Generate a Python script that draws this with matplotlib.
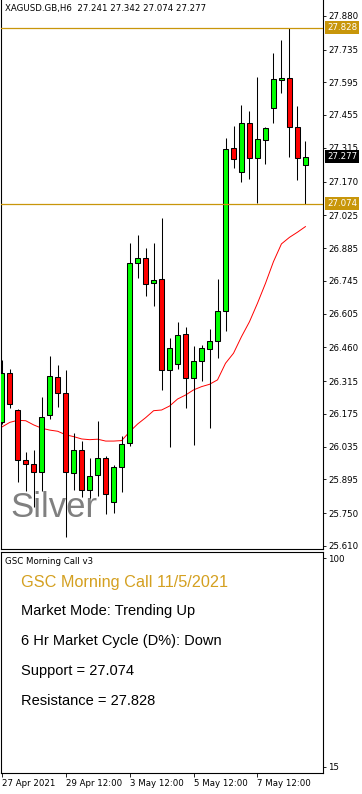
import numpy as np
import matplotlib
matplotlib.use("Agg")
from matplotlib import pyplot as plt
from matplotlib import transforms

# H6 candles, XAGUSD
opens = [26.139, 26.350, 26.191, 25.977, 25.960, 25.925, 26.169, 26.333, 26.265, 25.921,
         26.020, 25.851, 25.912, 25.986, 25.797, 25.947, 26.049, 26.820, 26.842, 26.734,
         26.752, 26.363, 26.388, 26.516, 26.328, 26.400, 26.452, 26.486, 26.615, 27.312,
         27.212, 27.419, 27.270, 27.347, 27.484, 27.603, 27.612, 27.402, 27.241]
highs = [26.406, 26.368, 26.198, 26.011, 26.022, 26.249, 26.424, 26.385, 26.363, 26.092,
         26.060, 25.988, 26.145, 25.996, 25.958, 26.081, 26.907, 26.940, 26.885, 26.906,
         27.014, 26.499, 26.567, 26.546, 26.466, 26.470, 26.538, 26.752, 27.356, 27.408,
         27.498, 27.472, 27.616, 27.404, 27.720, 27.776, 27.828, 27.493, 27.342]
lows = [26.132, 26.202, 25.885, 25.847, 25.778, 25.847, 26.155, 26.206, 25.650, 25.850,
        25.821, 25.814, 25.826, 25.745, 25.749, 25.839, 26.040, 26.755, 26.681, 26.639,
        26.279, 26.032, 26.366, 26.201, 26.042, 26.318, 26.116, 26.413, 26.532, 27.229,
        27.169, 27.182, 27.080, 27.246, 27.422, 27.550, 27.276, 27.178, 27.074]
closes = [26.349, 26.216, 25.977, 25.960, 25.925, 26.161, 26.338, 26.264, 25.925, 26.020,
          25.850, 25.908, 25.986, 25.831, 25.948, 26.045, 26.820, 26.842, 26.730, 26.747,
          26.362, 26.456, 26.512, 26.329, 26.401, 26.456, 26.486, 26.615, 27.308, 27.265,
          27.419, 27.270, 27.351, 27.398, 27.608, 27.612, 27.402, 27.270, 27.277]
ma_line = [26.119, 26.139, 26.148, 26.146, 26.128, 26.114, 26.106, 26.101, 26.086, 26.078,
           26.068, 26.065, 26.067, 26.059, 26.059, 26.061, 26.099, 26.132, 26.159, 26.189,
           26.192, 26.209, 26.239, 26.256, 26.278, 26.292, 26.302, 26.321, 26.392, 26.435,
           26.506, 26.570, 26.649, 26.734, 26.827, 26.903, 26.931, 26.953, 26.977]

support = 27.074
resistance = 27.828
last_price = 27.277

price_ticks = [27.880, 27.735, 27.595, 27.455, 27.315, 27.170, 27.025, 26.885, 26.745,
               26.605, 26.460, 26.315, 26.175, 26.035, 25.895, 25.750, 25.610]
time_tick_pos = [0, 8, 16, 24, 32]
time_tick_labels = ["27 Apr 2021", "29 Apr 12:00", "3 May 12:00", "5 May 12:00", "7 May 12:00"]

panel_lines = ["Market Mode: Trending Up",
               "6 Hr Market Cycle (D%): Down",
               "Support = 27.074",
               "Resistance = 27.828"]

GOLD = "#c8960a"
W, H = 362, 794

plt.rcParams['font.family'] = ['DejaVu Sans']
plt.rcParams['font.size'] = 6.2

fig = plt.figure(figsize=(W / 100, H / 100), dpi=100)
fig.patch.set_facecolor("white")


def fx(px):
    return px / W


def fy(py):
    return 1 - py / H


ax = fig.add_axes([fx(0.5), fy(549), fx(323 - 0.5), fy(0) - fy(549)])
ax2 = fig.add_axes([fx(0.5), fy(773), fx(323 - 0.5), fy(552) - fy(773)])

x = np.arange(len(opens))
o = np.array(opens)
c = np.array(closes)
up = c >= o
colors = np.where(up, "#00ff00", "#ff0000")

# wicks then bodies
ax.vlines(x, lows, highs, color="black", linewidth=0.75, zorder=3)
ax.bar(x, np.maximum(np.abs(c - o), 0.002), bottom=np.minimum(o, c), width=0.62,
       color=colors, edgecolor="black", linewidth=0.75, zorder=4)
ax.plot(x, ma_line, color="#ff0000", linewidth=0.7, zorder=2)

ax.axhline(resistance, color=GOLD, linewidth=0.9, zorder=5)
ax.axhline(support, color=GOLD, linewidth=0.9, zorder=5)

ax.text(0.03, 0.075, "Silver", transform=ax.transAxes, fontsize=25, color="#808080",
        family="Liberation Sans", va="center", ha="left", zorder=1)

ax.set_xlim(-0.16, 40.2)
ax.set_ylim(25.597, 27.947)
ax.set_xticks([])
ax.yaxis.tick_right()
ax.set_yticks(price_ticks)
ax.set_yticklabels([f"{v:.3f}" for v in price_ticks])
ax.tick_params(axis="y", direction="out", length=2.2, width=0.6, pad=1.6, labelsize=6.2)
ax.spines["top"].set_visible(False)
for s in ["left", "right", "bottom"]:
    ax.spines[s].set_linewidth(0.8)

# highlighted price labels on the scale
trans = transforms.blended_transform_factory(ax.transAxes, ax.transData)
for val, bg in [(resistance, GOLD), (support, GOLD), (last_price, "black")]:
    ax.text(1.012, val, f"{val:.3f}", transform=trans, ha="left", va="center",
            color="white", fontsize=6.2, zorder=10, clip_on=False,
            bbox=dict(facecolor=bg, edgecolor="none", pad=1.4))

fig.text(fx(5), fy(8), "XAGUSD.GB,H6  27.241 27.342 27.074 27.277", ha="left",
         va="center", fontsize=6.2)

# indicator sub-window
ax2.set_xlim(-0.16, 40.2)
ax2.set_ylim(12.43, 102.57)
ax2.yaxis.tick_right()
ax2.set_yticks([100, 15])
ax2.set_yticklabels(["100", "15"])
ax2.tick_params(axis="y", direction="out", length=2.2, width=0.6, pad=1.6, labelsize=6.2)
ax2.set_xticks(time_tick_pos)
ax2.set_xticklabels(time_tick_labels, ha="left")
ax2.tick_params(axis="x", direction="out", length=3, width=0.6, pad=1.5, labelsize=6.2)
for s in ax2.spines.values():
    s.set_linewidth(0.8)

fig.text(fx(5), fy(561), "GSC Morning Call v3", ha="left", va="center", fontsize=6.2)
fig.text(fx(21), fy(582), "GSC Morning Call 11/5/2021", ha="left", va="center",
         fontsize=11.7, color="#d4a020", family="Liberation Sans")
for i, line in enumerate(panel_lines):
    fig.text(fx(21), fy(611 + 30 * i), line, ha="left", va="center",
             fontsize=10.5, color="black", family="Liberation Sans")

fig.savefig("out.png", dpi=100)
